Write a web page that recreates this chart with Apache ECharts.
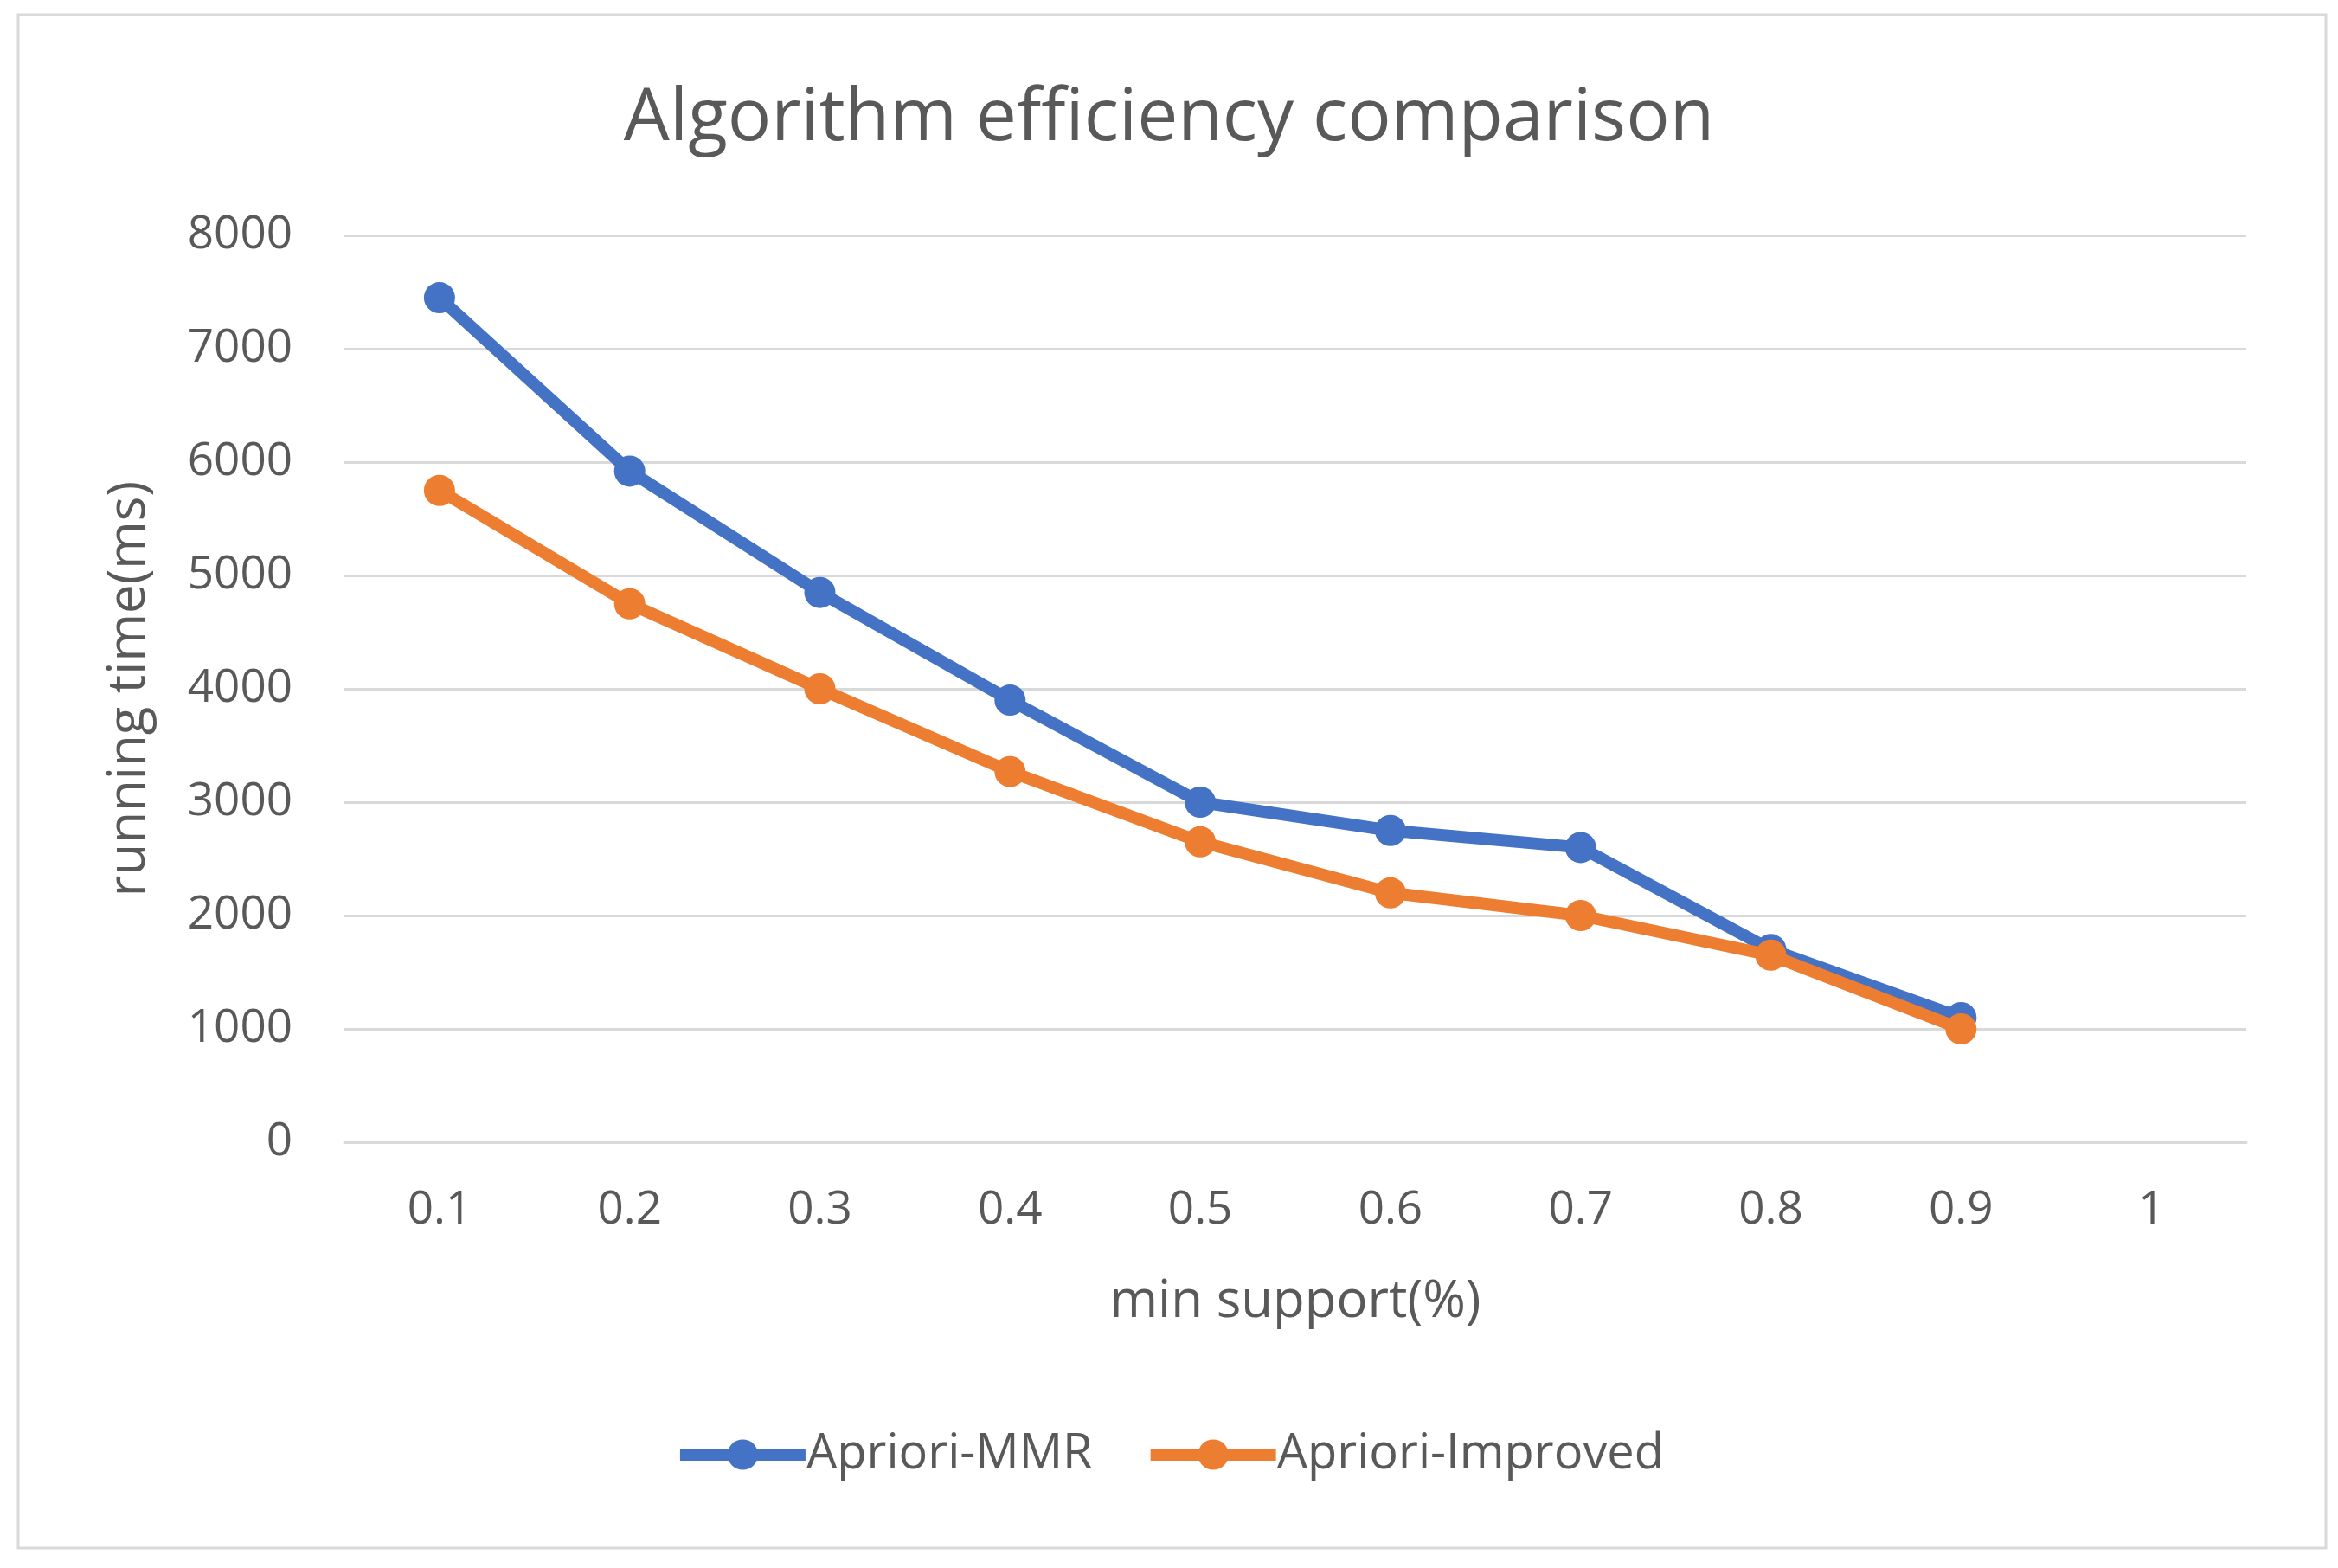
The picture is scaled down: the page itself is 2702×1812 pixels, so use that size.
<!DOCTYPE html>
<html>
<head>
<meta charset="utf-8">
<script src="https://cdn.jsdelivr.net/npm/echarts@6/dist/echarts.min.js"></script>
<style>
html,body{margin:0;padding:0;background:#fff;}
#chart{width:2702px;height:1812px;}
</style>
</head>
<body>
<div id="chart"></div>
<script>
const categories = ['0.1','0.2','0.3','0.4','0.5','0.6','0.7','0.8','0.9','1'];
const mmrValues = [7450, 5920, 4850, 3900, 3000, 2750, 2600, 1700, 1100, null];
const improvedValues = [5750, 4750, 4000, 3270, 2650, 2200, 2000, 1650, 1000, null];
const yTicks = {min: 0, max: 8000, interval: 1000};

const chart = echarts.init(document.getElementById('chart'));
const textColor = '#595959';
const font = 'Open Sans';
chart.setOption({
  backgroundColor: '#fff',
  animation: false,
  graphic: [{
    type: 'rect',
    shape: {x: 21, y: 17, width: 2667, height: 1772},
    style: {fill: 'none', stroke: '#d9d9d9', lineWidth: 3},
    silent: true
  }],
  title: {
    text: 'Algorithm efficiency comparison',
    left: 'center',
    top: 91,
    textStyle: {color: textColor, fontSize: 84, fontWeight: 'normal', fontFamily: font}
  },
  legend: {
    bottom: 98,
    left: 'center',
    itemWidth: 145,
    itemHeight: 44,
    itemGap: 60,
    lineStyle: {width: 14},
    textStyle: {color: textColor, fontSize: 56, fontFamily: font, padding: [0,0,0,-4]},
    data: ['Apriori-MMR', 'Apriori-Improved']
  },
  grid: {left: 398, right: 106, top: 272, bottom: 492},
  xAxis: {
    type: 'category',
    data: categories,
    boundaryGap: true,
    name: 'min support(%)',
    nameLocation: 'middle',
    nameGap: 155,
    nameTextStyle: {color: textColor, fontSize: 60, fontFamily: font},
    axisLine: {show: true, lineStyle: {color: '#d9d9d9', width: 3}},
    axisTick: {show: false},
    axisLabel: {color: textColor, fontSize: 53, fontFamily: font, margin: 52}
  },
  yAxis: {
    type: 'value',
    min: yTicks.min, max: yTicks.max, interval: yTicks.interval,
    name: 'running time(ms)',
    nameLocation: 'middle',
    nameGap: 218,
    nameTextStyle: {color: textColor, fontSize: 60, fontFamily: font},
    axisLine: {show: false},
    axisTick: {show: false},
    axisLabel: {color: textColor, fontSize: 53, fontFamily: font, margin: 60, formatter: v => String(v)},
    splitLine: {lineStyle: {color: '#d9d9d9', width: 3}}
  },
  series: [
    {
      name: 'Apriori-MMR',
      type: 'line',
      data: mmrValues,
      symbol: 'circle',
      symbolSize: 36,
      color: '#4472C4',
      lineStyle: {width: 14, color: '#4472C4'},
      itemStyle: {color: '#4472C4'},
      z: 2
    },
    {
      name: 'Apriori-Improved',
      type: 'line',
      data: improvedValues,
      symbol: 'circle',
      symbolSize: 36,
      color: '#ED7D31',
      lineStyle: {width: 14, color: '#ED7D31'},
      itemStyle: {color: '#ED7D31'},
      z: 3
    }
  ]
});
</script>
</body>
</html>
